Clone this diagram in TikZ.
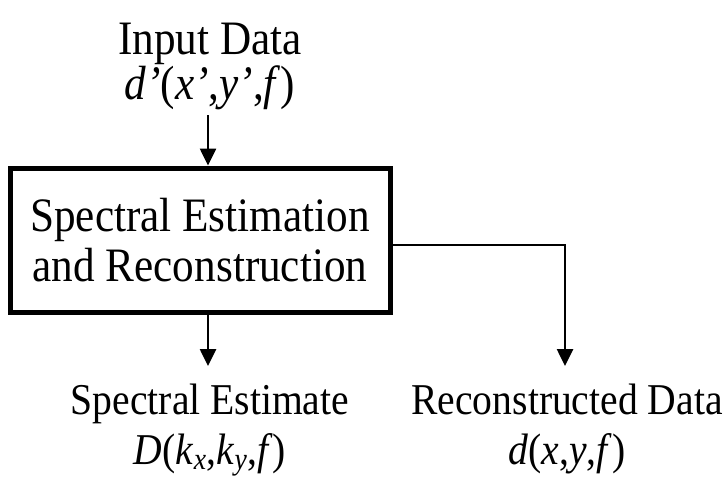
\documentclass[tikz,border=0pt]{standalone}
\usepackage{fontspec}
\setmainfont{Liberation Serif}[FakeStretch=0.9]
\usetikzlibrary{arrows.meta,positioning,calc}

\begin{document}
\begin{tikzpicture}[x=1pt,y=-1pt,
  txt/.style={inner sep=0pt,font=\fontsize{44}{48}\selectfont,anchor=base},
  bigtxt/.style={txt,font=\fontsize{48}{52}\selectfont},
  proc/.style={draw=black,line width=5pt,minimum width=380pt,minimum height=144pt,align=center,inner sep=0pt,font=\fontsize{48}{50}\selectfont},
  arr/.style={-{Triangle[length=17pt,width=16pt]},line width=2.6pt,black}
]
\useasboundingbox (0,0) rectangle (727,480);
\node[bigtxt] (input) at (210,54) {Input Data};
\node[bigtxt] (inputfn) at (210,99) {\textit{d'}(\textit{x'},\textit{y'},\textit{f})};
\node[proc] (recon) at (200,240) {Spectral Estimation\\and Reconstruction};
\node[txt] (est) at (210,414) {Spectral Estimate};
\node[txt] (estfn) at (210,464) {\textit{D}(\textit{k}\textsubscript{\textit{x}},\textit{k}\textsubscript{\textit{y}},\textit{f})};
\node[txt] (data) at (567,414) {Reconstructed Data};
\node[txt] (datafn) at (567,464) {\textit{d}(\textit{x},\textit{y},\textit{f})};

\coordinate (intop) at (208,115);
\coordinate (esttip) at (208,366);
\coordinate (datatip) at (565,366);
\draw[arr] (intop) -- (intop |- recon.north);
\draw[arr] (esttip |- recon.south) -- (esttip);
\draw[arr] ([yshift=-5pt]recon.east) -| (datatip);
\end{tikzpicture}
\end{document}
